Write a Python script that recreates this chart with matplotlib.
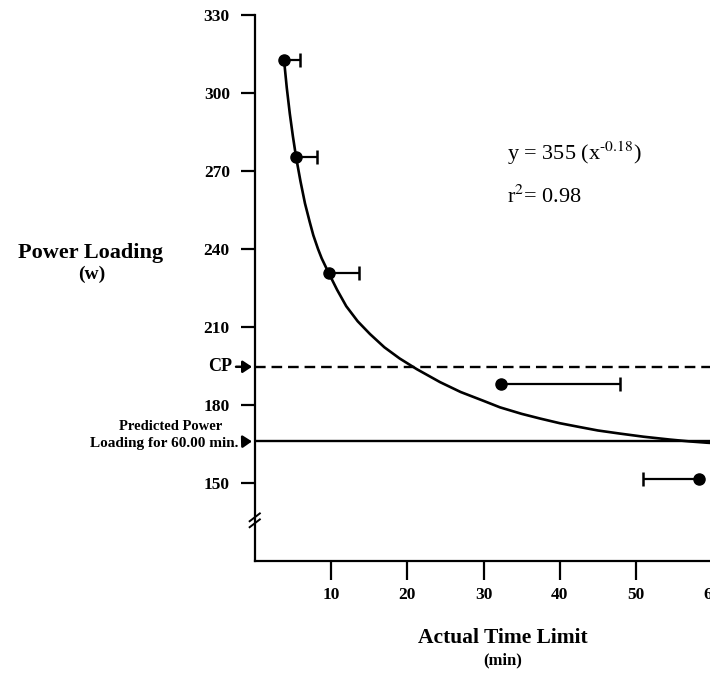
import matplotlib
matplotlib.use("Agg")
import matplotlib.pyplot as plt
import matplotlib.transforms as mtransforms

# ---------------- data ----------------
time_min = [3.84, 5.41, 9.74, 32.26, 58.22]
power_w = [312.7, 275.5, 230.7, 188.1, 151.4]
err_right = [2.1, 2.8, 3.9, 15.7, 0.0]
err_left = [0.0, 0.0, 0.0, 0.0, 7.3]

# points
curve_x = [3.84, 4.2, 4.6, 5.0, 5.41, 6.0, 6.59, 7.2, 7.68, 8.3, 8.78, 9.74,
           10.8, 12.0, 13.5, 15.11, 17.0, 19.0, 21.24, 24.3, 27.0, 30.0,
           32.16, 35.0, 37.41, 40.0, 42.65, 45.0, 47.9, 51.0, 54.46, 57.0,
           59.27, 61.0]
curve_y = [312.7, 302.0, 292.0, 283.4, 275.5, 266.0, 257.5, 250.5, 245.3,
           240.0, 236.4, 230.5, 224.3, 218.0, 212.2, 207.3, 202.2, 197.9,
           193.8, 188.8, 185.0, 181.6, 179.1, 176.6, 174.8, 173.0, 171.5,
           170.2, 169.0, 167.8, 166.7, 166.0, 165.5, 165.2]

cp_value = 194.7
predicted_60 = 166.0

yticks = [150, 180, 210, 240, 270, 300, 330]
xticks = [10, 20, 30, 40, 50, 60]

# ---------------- styling ----------------
plt.rcParams['font.family'] = ['Liberation Serif', 'DejaVu Serif']
plt.rcParams['mathtext.fontset'] = 'stix'

W, H = 710, 673
fig = plt.figure(figsize=(W / 100, H / 100), dpi=100)
ax = fig.add_axes([254.75 / W, (H - 561) / H, 60.6 * 7.625 / W, 546 / H])
ax.set_xlim(0, 60.6)
ax.set_ylim(120, 330)

for s in ['top', 'right']:
    ax.spines[s].set_visible(False)
for s in ['left', 'bottom']:
    ax.spines[s].set_linewidth(1.6)

ax.set_yticks(yticks)
ax.set_xticks(xticks)
ax.tick_params(axis='y', direction='out', length=10, width=1.6, pad=8,
               labelsize=12.5)
ax.tick_params(axis='x', direction='out', length=14, width=1.6, pad=5,
               labelsize=12.5)
for lab in ax.get_xticklabels() + ax.get_yticklabels():
    lab.set_fontweight('bold')

# reference lines
ax.axhline(cp_value, color='black', lw=1.7, dashes=(4.5, 2.5))
ax.axhline(predicted_60, color='black', lw=1.7)

# fitted curve
ax.plot(curve_x, curve_y, color='black', lw=1.9, solid_joinstyle='round',
        solid_capstyle='round')

# one-sided horizontal error bars
lo = [t - e for t, e in zip(time_min, err_left)]
hi = [t + e for t, e in zip(time_min, err_right)]
ax.hlines(power_w, lo, hi, color='black', lw=1.6)
ends_x = [h if er > 0 else l for h, l, er in zip(hi, lo, err_right)]
ax.plot(ends_x, power_w, ls='none', marker='|', ms=10, mew=1.8, color='black')

# points
ax.plot(time_min, power_w, ls='none', marker='o', ms=8, color='black',
        clip_on=False, zorder=5)

# axis break marks on y axis
trans = mtransforms.blended_transform_factory(ax.transAxes, ax.transData)
for dy in (0.0, 2.3):
    ax.plot([-0.011, 0.011], [133.0 + dy, 136.0 + dy], color='black', lw=1.4,
            transform=trans, clip_on=False)

# arrows / annotations on the left
arrow_kw = dict(arrowstyle='-|>,head_length=0.45,head_width=0.3',
                color='black', lw=1.8, shrinkA=1, shrinkB=0, mutation_scale=12)
ax.annotate('CP', xy=(-0.36, cp_value), xycoords='data',
            xytext=(-14.5, 0), textcoords='offset points',
            ha='right', va='center', fontsize=13, fontweight='bold',
            arrowprops=arrow_kw, annotation_clip=False)
ax.annotate('Loading for 60.00 min.', xy=(-0.36, predicted_60), xycoords='data',
            xytext=(-10, -1.5), textcoords='offset points',
            ha='right', va='center', fontsize=11, fontweight='bold',
            arrowprops=arrow_kw, annotation_clip=False)
fig.text(171 / W, 1 - 426 / H, 'Predicted Power', ha='center', va='center',
         fontsize=10.5, fontweight='bold')

# axis titles
fig.text(91 / W, 1 - 253 / H, 'Power Loading', ha='center', va='center',
         fontsize=16, fontweight='bold')
fig.text(92 / W, 1 - 274 / H, '(w)', ha='center', va='center',
         fontsize=14, fontweight='bold')
fig.text(503 / W, 1 - 638 / H, 'Actual Time Limit', ha='center', va='center',
         fontsize=15.5, fontweight='bold')
fig.text(503 / W, 1 - 660 / H, '(min)', ha='center', va='center',
         fontsize=12, fontweight='bold')

# equation
fig.text(507 / W, 1 - 153 / H, r'y = 355 (x$^{\text{-}0.18}$)', ha='left',
         va='center', fontsize=16)
fig.text(507 / W, 1 - 197 / H, r'r$^{2}$= 0.98', ha='left', va='center',
         fontsize=16)

fig.savefig('out.png', dpi=100)
